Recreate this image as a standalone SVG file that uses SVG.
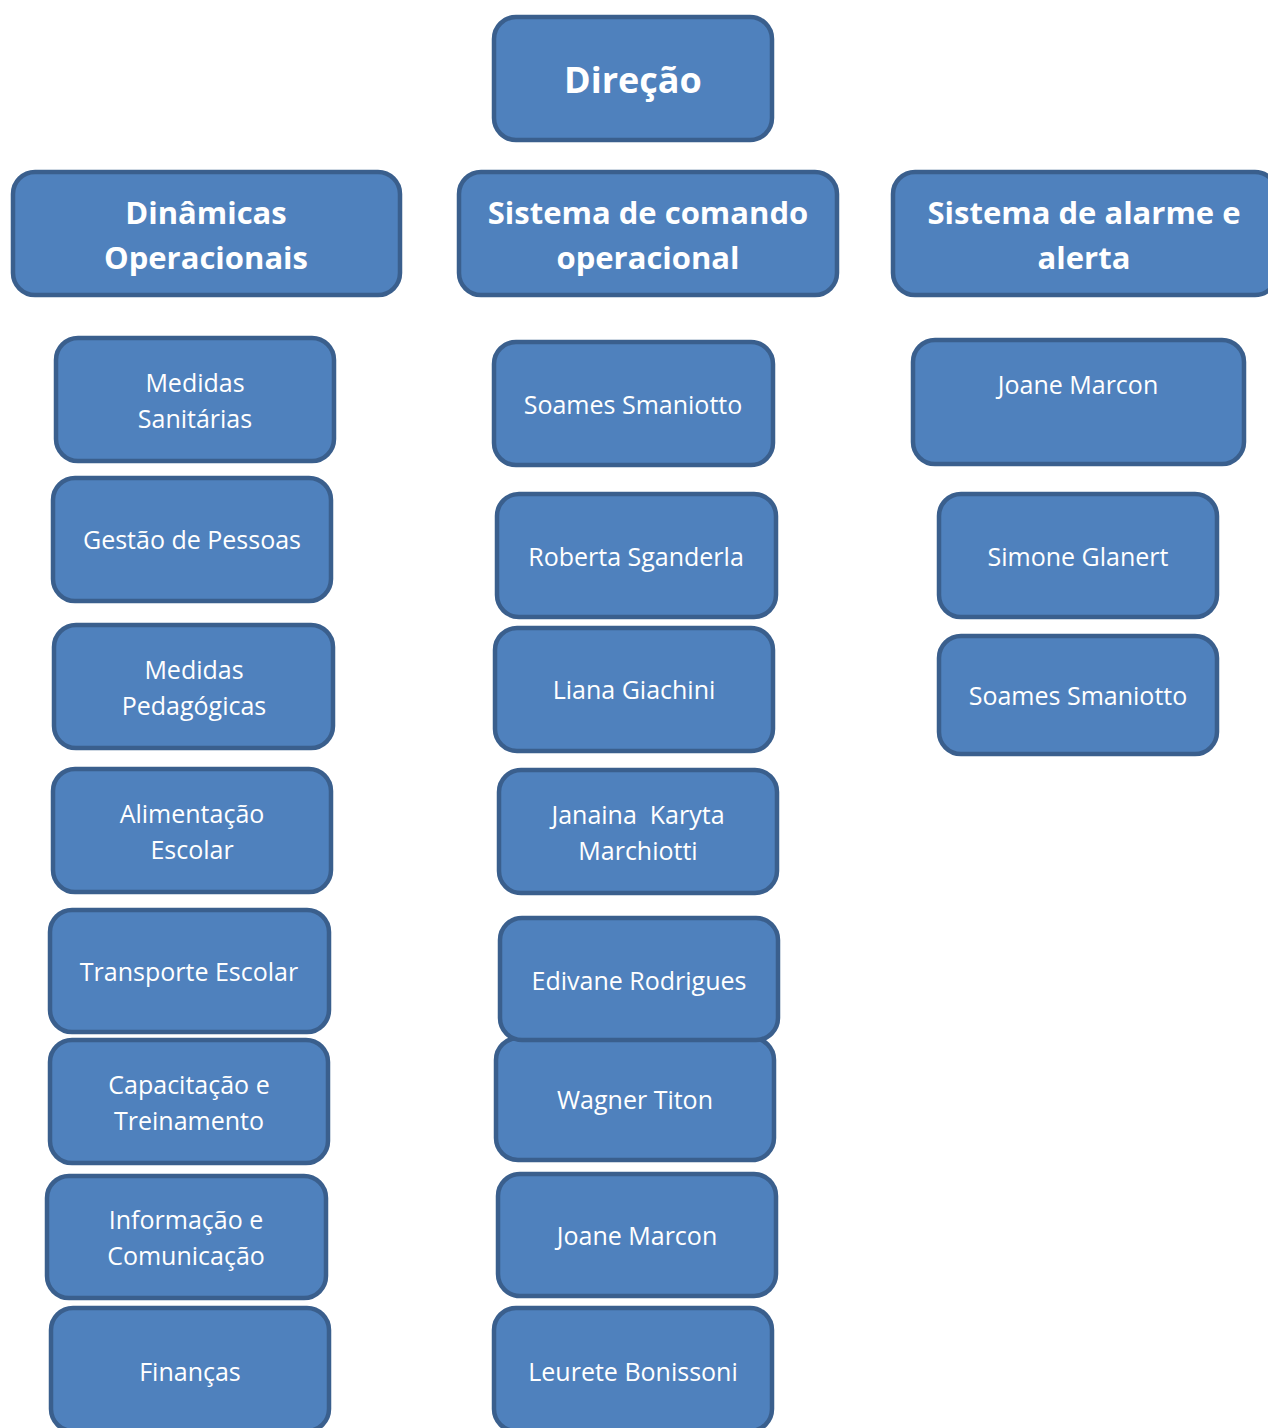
<svg xmlns="http://www.w3.org/2000/svg" width="1268" height="1428" viewBox="0 0 1268 1428">
<style>
.b{fill:#4F81BD;stroke:#3A5F8D;stroke-width:4.5}
.t{font-family:"Open Sans","Noto Sans",sans-serif;font-size:25px;fill:#fff;text-anchor:middle}
.h{font-family:"Open Sans","Noto Sans",sans-serif;font-size:31px;font-weight:bold;fill:#fff;text-anchor:middle}
.d{font-size:36px}
</style>
<rect width="1268" height="1428" fill="#fff"/>
<g id="connectors"></g>
<g id="direcao"><rect class="b" x="494" y="17" width="278" height="123" rx="22"/><text class="h d" x="633" y="93">Direção</text></g>
<g id="dinamicas"><rect class="b" x="13" y="172" width="387" height="123" rx="22"/><text class="h" x="206" y="224">Dinâmicas</text><text class="h" x="206" y="269">Operacionais</text></g>
<g id="comando"><rect class="b" x="459" y="172" width="378" height="123" rx="22"/><text class="h" x="648" y="224">Sistema de comando</text><text class="h" x="648" y="269">operacional</text></g>
<g id="alarme"><rect class="b" x="893" y="172" width="384" height="123" rx="22"/><text class="h" x="1084" y="224">Sistema de alarme e</text><text class="h" x="1084" y="269">alerta</text></g>

<g id="l1"><rect class="b" x="56" y="338" width="278" height="123" rx="22"/><text class="t" x="195" y="392">Medidas</text><text class="t" x="195" y="428">Sanitárias</text></g>
<g id="l2"><rect class="b" x="53" y="478" width="278" height="123" rx="22"/><text class="t" x="192" y="549">Gestão de Pessoas</text></g>
<g id="l3"><rect class="b" x="54" y="625" width="279" height="123" rx="22"/><text class="t" x="194" y="679">Medidas</text><text class="t" x="194" y="715">Pedagógicas</text></g>
<g id="l4"><rect class="b" x="53" y="769" width="278" height="123" rx="22"/><text class="t" x="192" y="823">Alimentação</text><text class="t" x="192" y="859">Escolar</text></g>
<g id="l5"><rect class="b" x="50" y="910" width="279" height="122" rx="22"/><text class="t" x="189" y="981">Transporte Escolar</text></g>
<g id="l6"><rect class="b" x="50" y="1040" width="278" height="123" rx="22"/><text class="t" x="189" y="1094">Capacitação e</text><text class="t" x="189" y="1130">Treinamento</text></g>
<g id="l7"><rect class="b" x="47" y="1176" width="279" height="122" rx="22"/><text class="t" x="186" y="1229">Informação e</text><text class="t" x="186" y="1265">Comunicação</text></g>
<g id="l8"><rect class="b" x="51" y="1308" width="278" height="123" rx="22"/><text class="t" x="190" y="1381">Finanças</text></g>

<g id="m1"><rect class="b" x="494" y="342" width="279" height="123" rx="22"/><text class="t" x="633" y="414">Soames Smaniotto</text></g>
<g id="m2"><rect class="b" x="497" y="494" width="279" height="123" rx="22"/><text class="t" x="636" y="566">Roberta Sganderla</text></g>
<g id="m3"><rect class="b" x="495" y="628" width="278" height="123" rx="22"/><text class="t" x="634" y="699">Liana Giachini</text></g>
<g id="m4"><rect class="b" x="499" y="770" width="278" height="123" rx="22"/><text class="t" x="638" y="824" style="white-space:pre" xml:space="preserve">Janaina  Karyta</text><text class="t" x="638" y="860">Marchiotti</text></g>
<g id="m6"><rect class="b" x="496" y="1038" width="278" height="122" rx="22"/><text class="t" x="635" y="1109">Wagner Titon</text></g>
<g id="m5"><rect class="b" x="500" y="918" width="278" height="122" rx="22"/><text class="t" x="639" y="990">Edivane Rodrigues</text></g>
<g id="m7"><rect class="b" x="498" y="1174" width="278" height="122" rx="22"/><text class="t" x="637" y="1245">Joane Marcon</text></g>
<g id="m8"><rect class="b" x="494" y="1308" width="278" height="123" rx="22"/><text class="t" x="633" y="1381">Leurete Bonissoni</text></g>

<g id="r1"><rect class="b" x="913" y="340" width="331" height="124" rx="22"/><text class="t" x="1078" y="394">Joane Marcon</text></g>
<g id="r2"><rect class="b" x="939" y="494" width="278" height="123" rx="22"/><text class="t" x="1078" y="566">Simone Glanert</text></g>
<g id="r3"><rect class="b" x="939" y="636" width="278" height="118" rx="22"/><text class="t" x="1078" y="705">Soames Smaniotto</text></g>
</svg>
